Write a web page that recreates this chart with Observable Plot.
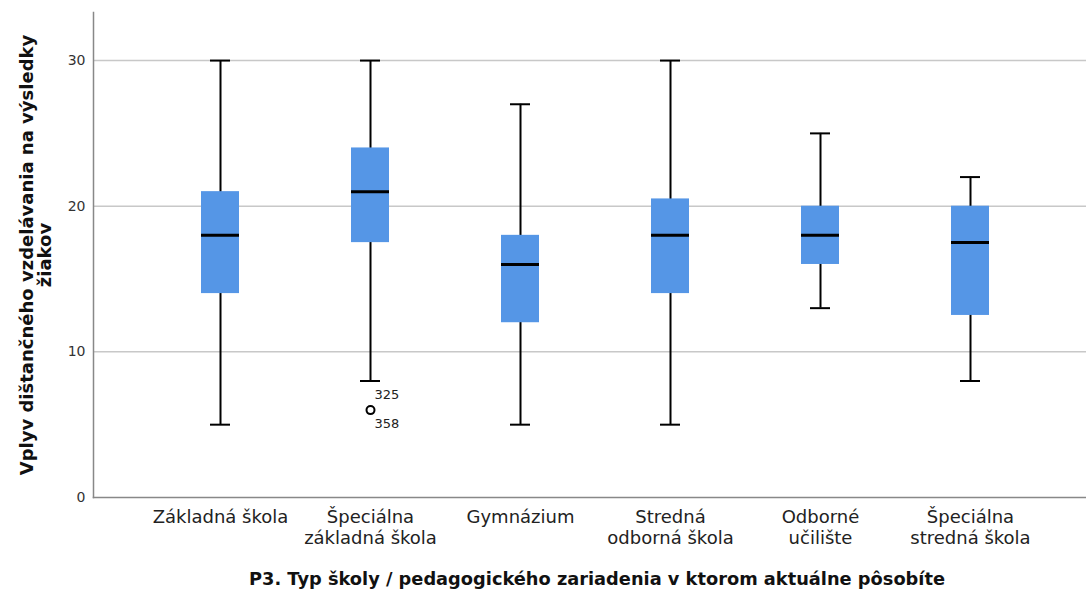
<!DOCTYPE html>
<html><head><meta charset="utf-8">
<script src="https://cdn.jsdelivr.net/npm/d3@7"></script>
<script src="https://cdn.jsdelivr.net/npm/@observablehq/plot@0.6"></script>
<style>body{margin:0;background:#fff;font-family:"DejaVu Sans",sans-serif}</style>
</head><body><div id="chart"></div>
<script>
const categories = ["Základná škola","Špeciálna\nzákladná škola","Gymnázium","Stredná\nodborná škola","Odborné\nučilište","Špeciálna\nstredná škola"];
const whiskerLow  = [5, 8, 5, 5, 13, 8];
const q1          = [14, 17.5, 12, 14, 16, 12.5];
const median      = [18, 21, 16, 18, 18, 17.5];
const q3          = [21, 24, 18, 20.5, 20, 20];
const whiskerHigh = [30, 30, 27, 30, 25, 22];
const outlierCategory = ["Špeciálna\nzákladná škola"];
const outlierValue = [6];
const outlierLabelAbove = ["325"];
const outlierLabelBelow = ["358"];
const yTicks = [0, 10, 20, 30];
const gridValues = [10, 20, 30];
const yTitle = "Vplyv dištančného vzdelávania na výsledky\nžiakov";
const xTitle = "P3. Typ školy / pedagogického zariadenia v ktorom aktuálne pôsobíte";

const boxes = categories.map((c, i) => ({c, lo: whiskerLow[i], q1: q1[i], med: median[i], q3: q3[i], hi: whiskerHigh[i]}));
const outliers = outlierCategory.map((c, i) => ({c, v: outlierValue[i], a: outlierLabelAbove[i], b: outlierLabelBelow[i]}));

const chart = Plot.plot({
  width: 1086,
  height: 592,
  marginLeft: 93,
  marginRight: 0,
  marginTop: 12,
  marginBottom: 95,
  style: {fontFamily: '"DejaVu Sans", sans-serif', background: "#fff"},
  x: {type: "band", domain: categories, range: [199, 990], paddingInner: 0.748, paddingOuter: 0},
  y: {domain: [0, 33.3], range: [497, 12]},
  marks: [
    Plot.ruleY(gridValues, {stroke: "#c8c8c8", strokeWidth: 1.5}),
    Plot.frame({anchor: "left", stroke: "#888", strokeWidth: 1.5}),
    Plot.frame({anchor: "bottom", stroke: "#888", strokeWidth: 1.5}),
    Plot.axisY({ticks: yTicks, tickSize: 0, tickPadding: 8, fontSize: 14, fill: "#333", label: null}),
    Plot.axisX({tickSize: 0, tickPadding: 11, fontSize: 18, lineHeight: 1.15, fill: "#222", label: null}),
    Plot.ruleX(boxes, {x: "c", y1: "lo", y2: "hi", stroke: "#000", strokeWidth: 2}),
    Plot.tickY(boxes, {x: "c", y: "lo", stroke: "#000", strokeWidth: 2, inset: 9}),
    Plot.tickY(boxes, {x: "c", y: "hi", stroke: "#000", strokeWidth: 2, inset: 9}),
    Plot.barY(boxes, {x: "c", y1: "q1", y2: "q3", fill: "#5596e6"}),
    Plot.tickY(boxes, {x: "c", y: "med", stroke: "#000", strokeWidth: 3}),
    Plot.dot(outliers, {x: "c", y: "v", r: 4, stroke: "#000", strokeWidth: 2, fill: "#fff"}),
    Plot.text(outliers, {x: "c", y: "v", text: "a", dx: 4, dy: -15, textAnchor: "start", fontSize: 13, fill: "#222"}),
    Plot.text(outliers, {x: "c", y: "v", text: "b", dx: 4, dy: 14, textAnchor: "start", fontSize: 13, fill: "#222"}),
    Plot.text([yTitle], {frameAnchor: "left", dx: -57, rotate: -90, textAnchor: "middle", fontSize: 18, fontWeight: "bold", lineHeight: 1.0, fill: "#111"}),
    Plot.text([xTitle], {frameAnchor: "bottom", dx: 7, dy: 87, fontSize: 17.8, fontWeight: "bold", fill: "#111"})
  ]
});
document.getElementById("chart").appendChild(chart);
</script>
</body></html>
